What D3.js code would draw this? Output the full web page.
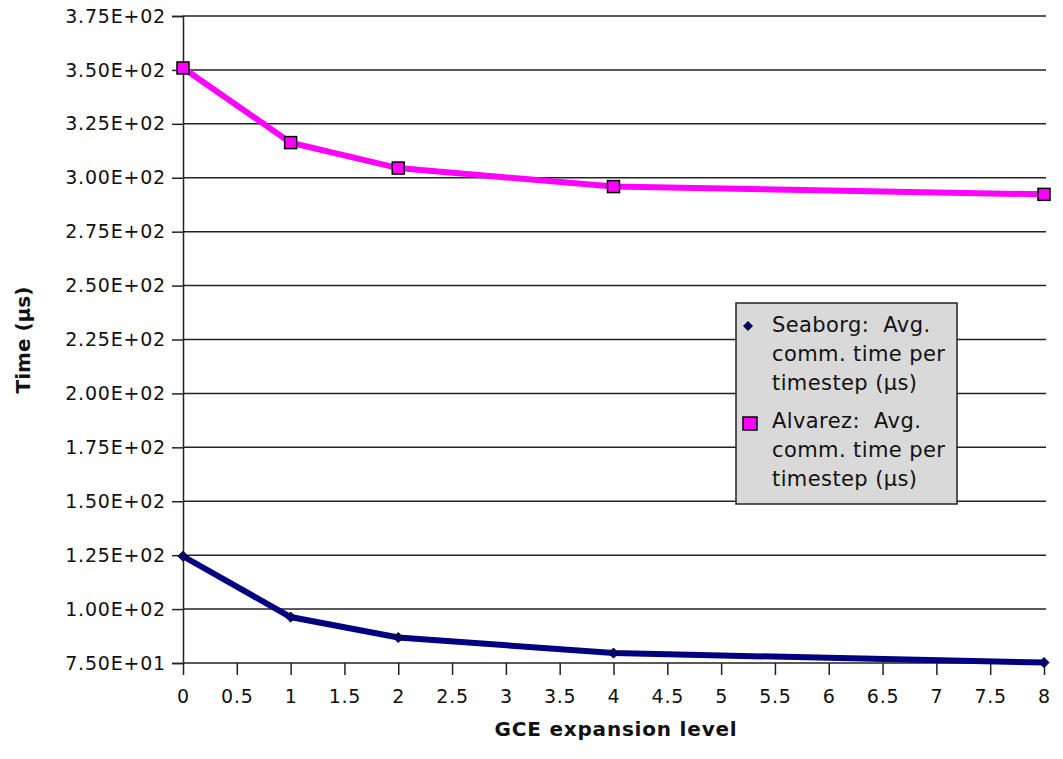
<!DOCTYPE html>
<html lang="en">
<head>
    <meta charset="UTF-8">
    <title>GCE expansion level</title>
    <script src="https://d3js.org/d3.v7.min.js"></script>
    <style>
        body { margin: 0; background: white; }
        text { font-family: "DejaVu Sans", Verdana, sans-serif; }
        .tick text { font-size: 19px; letter-spacing: 0.8px; fill: #111; }
        .axis-title { font-size: 20px; font-weight: bold; fill: #111; }
        .legend-text { font-size: 21px; letter-spacing: 0.4px; fill: #111; white-space: pre; }
    </style>
</head>
<body>
<div id="chart"></div>
<script>
    // data
    var levels = [0, 1, 2, 4, 8];
    var seaborg = [124.5, 96.3, 86.8, 79.6, 75.2];
    var alvarez = [350.9, 316.3, 304.5, 295.9, 292.3];
    var legendLines = [["Seaborg:  Avg.", "comm. time per", "timestep (\u00b5s)"],
                       ["Alvarez:  Avg.", "comm. time per", "timestep (\u00b5s)"]];
    var yTicks = [75, 100, 125, 150, 175, 200, 225, 250, 275, 300, 325, 350, 375];
    var xTicks = [0, 0.5, 1, 1.5, 2, 2.5, 3, 3.5, 4, 4.5, 5, 5.5, 6, 6.5, 7, 7.5, 8];

    var margin = {top: 16, right: 19, bottom: 96, left: 183},
        width = 1063 - margin.left - margin.right,
        height = 759 - margin.top - margin.bottom;

    var svg = d3.select("#chart")
        .append("svg")
        .attr("width", 1063)
        .attr("height", 759);

    var g = svg.append("g")
        .attr("transform", "translate(" + margin.left + "," + margin.top + ")");

    var x = d3.scaleLinear().domain([0, 8]).range([0, 861]);
    var y = d3.scaleLinear().domain([75, 375]).range([height, 0]);

    // horizontal gridlines
    g.append("g")
        .selectAll("line")
        .data(yTicks)
        .enter().append("line")
        .attr("x1", 0)
        .attr("x2", 863)
        .attr("y1", function (d) { return y(d); })
        .attr("y2", function (d) { return y(d); })
        .attr("stroke", "#222")
        .attr("stroke-width", 1.5);

    // Y axis
    var yAxis = g.append("g")
        .call(d3.axisLeft(y)
            .tickValues(yTicks)
            .tickSize(11)
            .tickPadding(6)
            .tickFormat(function (d) {
                var e = Math.floor(Math.log10(d));
                return (d / Math.pow(10, e)).toFixed(2) + "E+" + d3.format("02")(e);
            }));
    yAxis.select(".domain").attr("stroke", "#222").attr("stroke-width", 1.5);
    yAxis.selectAll(".tick line").attr("stroke", "#222").attr("stroke-width", 1.5);

    // X axis
    var xAxis = g.append("g")
        .attr("transform", "translate(0," + height + ")")
        .call(d3.axisBottom(x)
            .tickValues(xTicks)
            .tickSize(12)
            .tickPadding(15)
            .tickFormat(d3.format("")));
    xAxis.select(".domain").remove();
    xAxis.selectAll(".tick line").attr("stroke", "#222").attr("stroke-width", 1.5);

    // axis titles
    svg.append("text")
        .attr("class", "axis-title")
        .attr("transform", "translate(30,340) rotate(-90)")
        .attr("text-anchor", "middle")
        .text("Time (\u00b5s)");

    svg.append("text")
        .attr("class", "axis-title")
        .attr("x", 616)
        .attr("y", 736)
        .attr("text-anchor", "middle")
        .style("letter-spacing", "0.8px")
        .text("GCE expansion level");

    var line = d3.line()
        .x(function (d, i) { return x(levels[i]); })
        .y(function (d) { return y(d); });

    // Seaborg series
    g.append("path")
        .datum(seaborg)
        .attr("fill", "none")
        .attr("stroke", "#000080")
        .attr("stroke-width", 6)
        .attr("d", line);

    g.selectAll(".diamond")
        .data(seaborg)
        .enter().append("path")
        .attr("class", "diamond")
        .attr("transform", function (d, i) { return "translate(" + x(levels[i]) + "," + y(d) + ")"; })
        .attr("d", d3.symbol().type(d3.symbolDiamond2).size(64))
        .attr("fill", "#000080")
        .attr("stroke", "#000");

    // Alvarez series
    g.append("path")
        .datum(alvarez)
        .attr("fill", "none")
        .attr("stroke", "#ff00ff")
        .attr("stroke-width", 6)
        .attr("d", line);

    g.selectAll(".square")
        .data(alvarez)
        .enter().append("rect")
        .attr("class", "square")
        .attr("x", function (d, i) { return x(levels[i]) - 6; })
        .attr("y", function (d) { return y(d) - 6; })
        .attr("width", 12)
        .attr("height", 12)
        .attr("fill", "#ff00ff")
        .attr("stroke", "#000")
        .attr("stroke-width", 1.5);

    // legend
    var legend = svg.append("g").attr("transform", "translate(736,303)");
    legend.append("rect")
        .attr("width", 221)
        .attr("height", 201)
        .attr("fill", "#d9d9d9")
        .attr("stroke", "#222")
        .attr("stroke-width", 1.5);

    legendLines.forEach(function (lines, k) {
        var t = legend.append("text")
            .attr("class", "legend-text")
            .attr("x", 36)
            .attr("y", 29 + k * 96);
        lines.forEach(function (s, j) {
            t.append("tspan").attr("x", 36).attr("dy", j === 0 ? 0 : 29).text(s);
        });
    });

    legend.append("path")
        .attr("transform", "translate(12,23)")
        .attr("d", d3.symbol().type(d3.symbolDiamond2).size(50))
        .attr("fill", "#000080")
        .attr("stroke", "#000");

    legend.append("rect")
        .attr("x", 7)
        .attr("y", 114)
        .attr("width", 14)
        .attr("height", 13)
        .attr("fill", "#ff00ff")
        .attr("stroke", "#000")
        .attr("stroke-width", 1.5);
</script>
</body>
</html>
